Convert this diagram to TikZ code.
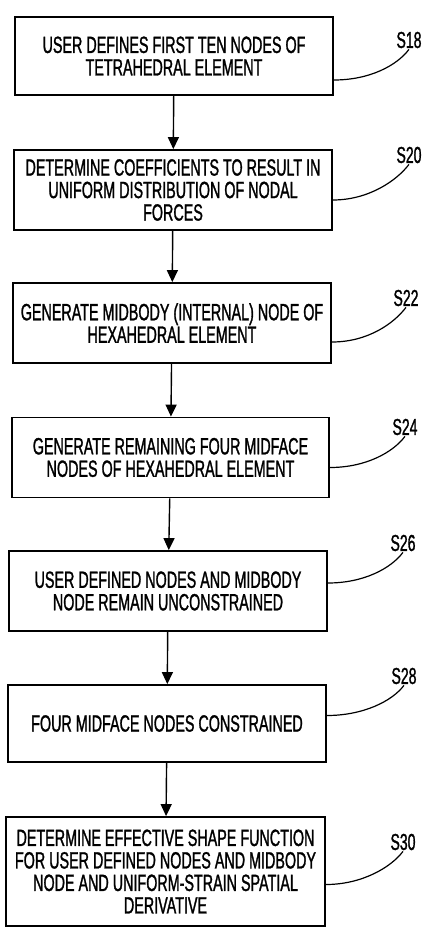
\documentclass[tikz,border=0pt]{standalone}
\usepackage{fontspec}
\setmainfont{Liberation Sans}[FakeStretch=0.61, FakeBold=1.2]
\usetikzlibrary{arrows.meta, calc}

\begin{document}
\begin{tikzpicture}[x=1pt, y=-1pt,
    stepbox/.style={draw, line width=1.8pt, align=center, minimum width=318pt,
      minimum height=80pt, inner sep=2pt, font=\fontsize{23.5}{22.5}\selectfont},
    tag/.style={inner sep=1pt, font=\fontsize{23}{23}\selectfont},
    flow/.style={-{Triangle[length=12pt, width=11pt]}, line width=1.4pt},
    lead/.style={line width=1.2pt}]
  \useasboundingbox (0,0) rectangle (441,948);

  % process steps
  \node[stepbox, minimum height=78pt] (s18) at (174,56)
    {USER DEFINES FIRST TEN NODES OF\\TETRAHEDRAL ELEMENT};
  \node[stepbox] (s20) at (173,190)
    {DETERMINE COEFFICIENTS TO RESULT IN\\UNIFORM DISTRIBUTION OF NODAL\\FORCES};
  \node[stepbox] (s22) at (172,323)
    {GENERATE MIDBODY (INTERNAL) NODE OF\\HEXAHEDRAL ELEMENT};
  \node[stepbox, minimum width=317pt] (s24) at (170.5,457.5)
    {GENERATE REMAINING FOUR MIDFACE\\NODES OF HEXAHEDRAL ELEMENT};
  \node[stepbox] (s26) at (168,591)
    {USER DEFINED NODES AND MIDBODY\\NODE REMAIN UNCONSTRAINED};
  \node[stepbox, minimum height=77pt] (s28) at (167,723.5)
    {FOUR MIDFACE NODES CONSTRAINED};
  \node[stepbox, minimum width=319pt, minimum height=109pt] (s30) at (165.5,871.5)
    {DETERMINE EFFECTIVE SHAPE FUNCTION\\FOR USER DEFINED NODES AND MIDBODY\\NODE AND UNIFORM-STRAIN SPATIAL\\DERIVATIVE};

  % flow arrows
  \draw[flow] (s18) -- (s20);
  \draw[flow] (s20) -- (s22);
  \draw[flow] (s22) -- (s24);
  \draw[flow] (s24) -- (s26);
  \draw[flow] (s26) -- (s28);
  \draw[flow] (s28) -- (s30);

  % reference numerals
  \node[tag] (t18) at (409,40) {S18};
  \node[tag] (t20) at (409,155) {S20};
  \node[tag] (t22) at (406,298) {S22};
  \node[tag] (t24) at (405,427) {S24};
  \node[tag] (t26) at (403,543) {S26};
  \node[tag] (t28) at (404,676) {S28};
  \node[tag] (t30) at (403,842) {S30};

  \draw[lead] ([yshift=-24pt]s18.east) .. controls +(36,0) and +(-12,16) .. (t18.south);
  \draw[lead] ([yshift=-10pt]s20.east) .. controls +(36,0) and +(-12,16) .. (t20.south);
  \draw[lead] ([yshift=-19pt]s22.east) .. controls +(36,0) and +(-12,16) .. (t22.south);
  \draw[lead] ([yshift=-10pt]s24.east) .. controls +(36,0) and +(-12,16) .. (t24.south);
  \draw[lead] ([yshift=8pt]s26.east) .. controls +(36,0) and +(-12,16) .. (t26.south);
  \draw[lead] ([yshift=8pt]s28.east) .. controls +(36,0) and +(-12,16) .. (t28.south);
  \draw[lead] ([yshift=-13pt]s30.east) .. controls +(36,0) and +(-12,16) .. (t30.south);
\end{tikzpicture}
\end{document}
